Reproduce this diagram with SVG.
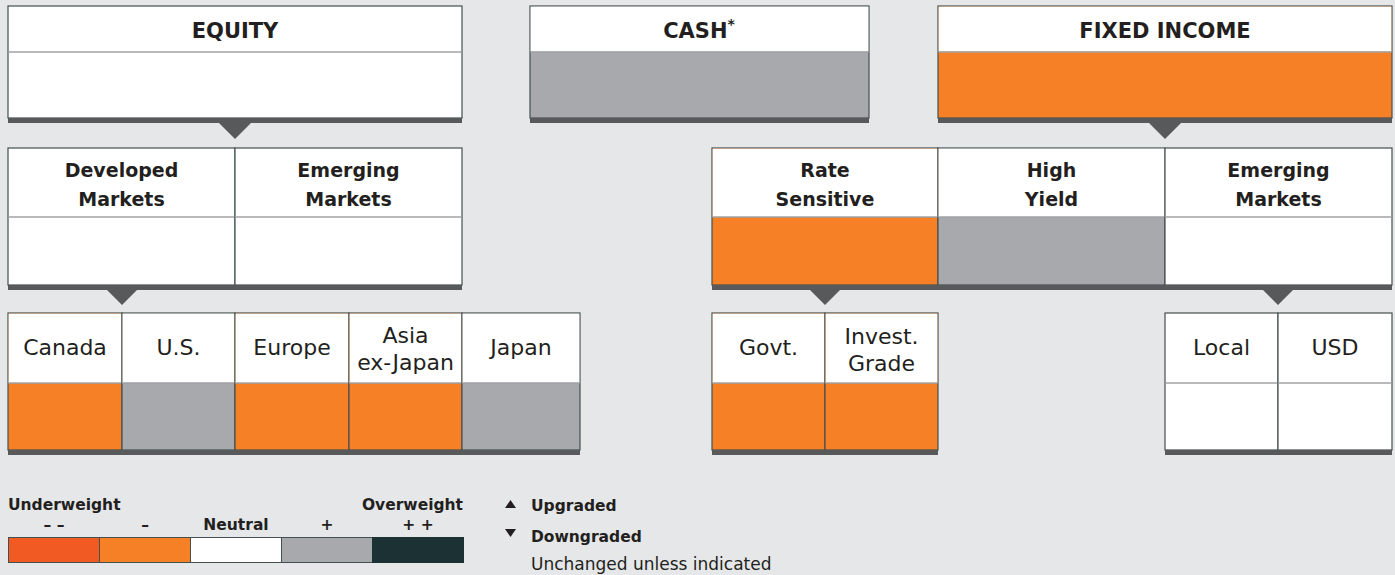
<svg xmlns="http://www.w3.org/2000/svg" width="1395" height="575" viewBox="0 0 1395 575">
<style>
.bg{fill:#e6e7e8}
.cell{stroke:#44504f;stroke-width:1.2}
.w{fill:#ffffff}
.o{fill:#f58025}
.g{fill:#a7a9ac}
.sep{stroke:#a0a2a5;stroke-width:1.5}
.bar{fill:#58595b}
.tri{fill:#58595b}
.h{font-family:"DejaVu Sans",sans-serif;font-weight:bold;font-size:21px;fill:#231f20;text-anchor:middle}
.s{font-family:"DejaVu Sans",sans-serif;font-weight:bold;font-size:19px;fill:#231f20;text-anchor:middle}
.r{font-family:"DejaVu Sans",sans-serif;font-size:22px;fill:#231f20;text-anchor:middle}
.lb{font-family:"DejaVu Sans",sans-serif;font-weight:bold;font-size:15.5px;fill:#231f20}
.lr{font-family:"DejaVu Sans",sans-serif;font-size:17px;fill:#231f20}
</style>
<rect class="bg" x="0" y="0" width="1395" height="575"/>

<g id="connectors">
<polygon class="tri" points="218,122 252,122 235,139"/>
<polygon class="tri" points="1148,122 1182,122 1165,139"/>
<polygon class="tri" points="106,289 138,289 122,305"/>
<polygon class="tri" points="809,289 841,289 825,305"/>
<polygon class="tri" points="1262,289 1294,289 1278,305"/>
</g>

<g id="equity">
<rect class="cell w" x="8" y="6" width="454" height="112"/>
<line class="sep" x1="8.5" y1="52" x2="461.5" y2="52"/>
<rect class="bar" x="8" y="118" width="454" height="5"/>
<text class="h" x="235" y="38">EQUITY</text>
</g>

<g id="cash">
<rect class="cell g" x="530" y="6" width="339" height="112"/>
<rect class="w" x="530.6" y="6.6" width="337.8" height="45"/>
<line class="sep" x1="530.5" y1="52" x2="868.5" y2="52"/>
<rect class="bar" x="530" y="118" width="339" height="5"/>
<text class="h" x="699" y="38">CASH<tspan font-size="14" dy="-9">*</tspan></text>
</g>

<g id="fixed-income">
<rect class="cell o" x="938" y="6" width="454" height="112"/>
<rect class="w" x="938.6" y="6.6" width="452.8" height="45"/>
<line class="sep" x1="938.5" y1="52" x2="1391.5" y2="52"/>
<rect class="bar" x="938" y="118" width="454" height="5"/>
<text class="h" x="1165" y="38">FIXED INCOME</text>
</g>

<g id="developed-markets">
<rect class="cell w" x="8" y="148" width="227" height="137"/>
<line class="sep" x1="8.5" y1="217" x2="234.5" y2="217"/>
<rect class="bar" x="8" y="285" width="227" height="5"/>
<text class="s" x="121.5" y="177">Developed</text>
<text class="s" x="121.5" y="206">Markets</text>
</g>
<g id="emerging-markets-equity">
<rect class="cell w" x="235" y="148" width="227" height="137"/>
<line class="sep" x1="235.5" y1="217" x2="461.5" y2="217"/>
<rect class="bar" x="235" y="285" width="227" height="5"/>
<text class="s" x="348.5" y="177">Emerging</text>
<text class="s" x="348.5" y="206">Markets</text>
</g>

<g id="rate-sensitive">
<rect class="cell o" x="712" y="148" width="226" height="137"/>
<rect class="w" x="712.6" y="148.6" width="224.8" height="68.4"/>
<line class="sep" x1="712.5" y1="217" x2="937.5" y2="217"/>
<rect class="bar" x="712" y="285" width="226" height="5"/>
<text class="s" x="825" y="177">Rate</text>
<text class="s" x="825" y="206">Sensitive</text>
</g>
<g id="high-yield">
<rect class="cell g" x="938" y="148" width="227" height="137"/>
<rect class="w" x="938.6" y="148.6" width="225.8" height="68.4"/>
<line class="sep" x1="938.5" y1="217" x2="1164.5" y2="217"/>
<rect class="bar" x="938" y="285" width="227" height="5"/>
<text class="s" x="1051.5" y="177">High</text>
<text class="s" x="1051.5" y="206">Yield</text>
</g>
<g id="emerging-markets-fi">
<rect class="cell w" x="1165" y="148" width="227" height="137"/>
<line class="sep" x1="1165.5" y1="217" x2="1391.5" y2="217"/>
<rect class="bar" x="1165" y="285" width="227" height="5"/>
<text class="s" x="1278.5" y="177">Emerging</text>
<text class="s" x="1278.5" y="206">Markets</text>
</g>

<g id="canada">
<rect class="cell o" x="8" y="313" width="114" height="137"/>
<rect class="w" x="8.6" y="313.6" width="112.8" height="69.4"/>
<line class="sep" x1="8.5" y1="383" x2="121.5" y2="383"/>
<rect class="bar" x="8" y="450" width="114" height="5"/>
<text class="r" x="65" y="355">Canada</text>
</g>
<g id="us">
<rect class="cell g" x="122" y="313" width="113" height="137"/>
<rect class="w" x="122.6" y="313.6" width="111.8" height="69.4"/>
<line class="sep" x1="122.5" y1="383" x2="234.5" y2="383"/>
<rect class="bar" x="122" y="450" width="113" height="5"/>
<text class="r" x="178.5" y="355">U.S.</text>
</g>
<g id="europe">
<rect class="cell o" x="235" y="313" width="114" height="137"/>
<rect class="w" x="235.6" y="313.6" width="112.8" height="69.4"/>
<line class="sep" x1="235.5" y1="383" x2="348.5" y2="383"/>
<rect class="bar" x="235" y="450" width="114" height="5"/>
<text class="r" x="292" y="355">Europe</text>
</g>
<g id="asia-ex-japan">
<rect class="cell o" x="349" y="313" width="113" height="137"/>
<rect class="w" x="349.6" y="313.6" width="111.8" height="69.4"/>
<line class="sep" x1="349.5" y1="383" x2="461.5" y2="383"/>
<rect class="bar" x="349" y="450" width="113" height="5"/>
<text class="r" x="405.5" y="343">Asia</text>
<text class="r" x="405.5" y="370">ex-Japan</text>
</g>
<g id="japan">
<rect class="cell g" x="462" y="313" width="118" height="137"/>
<rect class="w" x="462.6" y="313.6" width="116.8" height="69.4"/>
<line class="sep" x1="462.5" y1="383" x2="579.5" y2="383"/>
<rect class="bar" x="462" y="450" width="118" height="5"/>
<text class="r" x="521" y="355">Japan</text>
</g>

<g id="govt">
<rect class="cell o" x="712" y="313" width="113" height="137"/>
<rect class="w" x="712.6" y="313.6" width="111.8" height="69.4"/>
<line class="sep" x1="712.5" y1="383" x2="824.5" y2="383"/>
<rect class="bar" x="712" y="450" width="113" height="5"/>
<text class="r" x="768.5" y="355">Govt.</text>
</g>
<g id="invest-grade">
<rect class="cell o" x="825" y="313" width="113" height="137"/>
<rect class="w" x="825.6" y="313.6" width="111.8" height="69.4"/>
<line class="sep" x1="825.5" y1="383" x2="937.5" y2="383"/>
<rect class="bar" x="825" y="450" width="113" height="5"/>
<text class="r" x="881.5" y="344">Invest.</text>
<text class="r" x="881.5" y="371">Grade</text>
</g>
<g id="local">
<rect class="cell w" x="1165" y="313" width="113" height="137"/>
<line class="sep" x1="1165.5" y1="383" x2="1277.5" y2="383"/>
<rect class="bar" x="1165" y="450" width="113" height="5"/>
<text class="r" x="1221.5" y="355">Local</text>
</g>
<g id="usd">
<rect class="cell w" x="1278" y="313" width="114" height="137"/>
<line class="sep" x1="1278.5" y1="383" x2="1391.5" y2="383"/>
<rect class="bar" x="1278" y="450" width="114" height="5"/>
<text class="r" x="1335" y="355">USD</text>
</g>

<g id="legend-scale">
<text class="lb" x="8" y="510">Underweight</text>
<text class="lb" x="463" y="510" text-anchor="end">Overweight</text>
<text class="lb" x="54" y="530" text-anchor="middle" font-size="18">– –</text>
<text class="lb" x="145" y="530" text-anchor="middle" font-size="18">–</text>
<text class="lb" x="236" y="530" text-anchor="middle">Neutral</text>
<text class="lb" x="327" y="530" text-anchor="middle">+</text>
<text class="lb" x="418" y="530" text-anchor="middle">+ +</text>
<rect x="8.5" y="537.5" width="91" height="25" fill="#f15a22" stroke="#44504f" stroke-width="1"/>
<rect x="99.5" y="537.5" width="91" height="25" fill="#f58025" stroke="#44504f" stroke-width="1"/>
<rect x="190.5" y="537.5" width="91" height="25" fill="#ffffff" stroke="#44504f" stroke-width="1"/>
<rect x="281.5" y="537.5" width="91" height="25" fill="#a7a9ac" stroke="#44504f" stroke-width="1"/>
<rect x="372.5" y="537.5" width="91" height="25" fill="#1c3133" stroke="#1c3133" stroke-width="1"/>
</g>

<g id="legend-changes">
<polygon points="505,508 516,508 510.5,500" fill="#231f20"/>
<text class="lb" x="531" y="511">Upgraded</text>
<polygon points="505,529 516,529 510.5,537" fill="#231f20"/>
<text class="lb" x="531" y="542">Downgraded</text>
<text class="lr" x="531" y="570">Unchanged unless indicated</text>
</g>
</svg>
